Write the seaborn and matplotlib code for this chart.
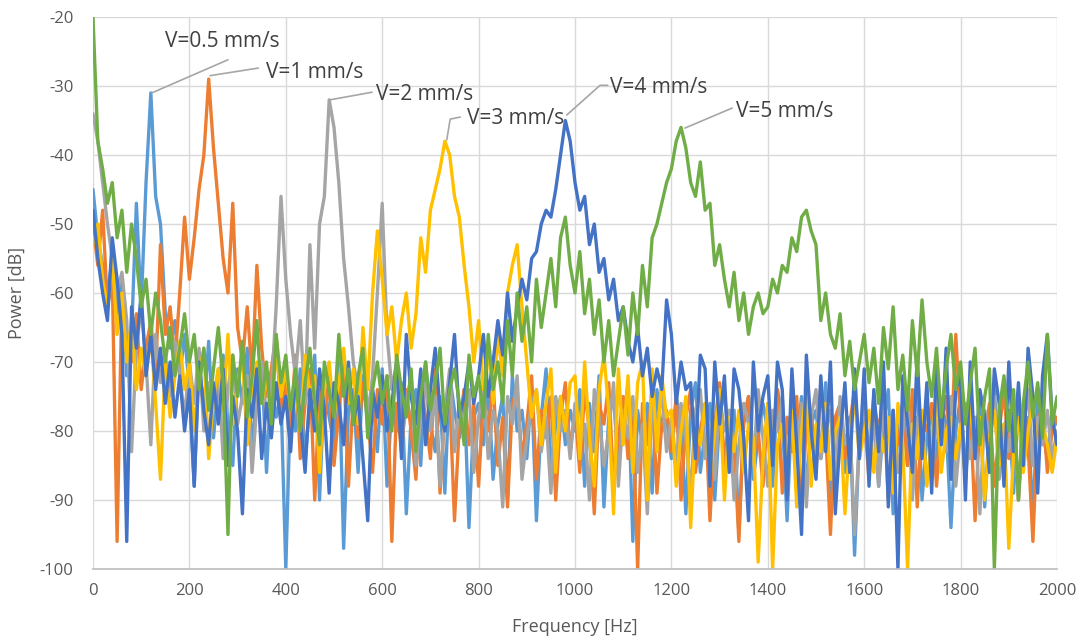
import numpy as np
import pandas as pd
import matplotlib
matplotlib.use("Agg")
import matplotlib.pyplot as plt
import seaborn as sns

# Frequency bins (Hz)
freq = list(range(0, 2001, 10))

v05 = [-45, -52, -56, -60, -55, -63, -58, -72, -66, -47, -62, -44, -31, -46, -50, -63, -68, -64, -72, -66,
       -74, -88, -70, -77, -67, -81, -73, -69, -79, -85, -71, -76, -68, -83, -74, -70, -86, -72, -78, -75,
       -100, -75, -80, -71, -84, -76, -69, -90, -73, -78, -82, -70, -97, -77, -74, -86, -72, -79, -75, -83,
       -71, -88, -76, -80, -73, -92, -78, -74, -85, -70, -79, -83, -75, -89, -72, -77, -81, -74, -94, -78,
       -76, -82, -73, -87, -79, -75, -90, -72, -80, -77, -84, -74, -93, -78, -71, -86, -79, -75, -82, -77,
       -80, -74, -88, -76, -83, -72, -91, -78, -75, -85, -79, -73, -96, -77, -82, -76, -89, -74, -80, -78,
       -84, -75, -79, -92, -77, -73, -86, -80, -76, -90, -78, -74, -83, -77, -95, -79, -75, -87, -81, -76,
       -80, -88, -74, -78, -93, -76, -82, -75, -89, -79, -77, -84, -73, -91, -80, -76, -86, -78, -98, -81,
       -77, -83, -75, -88, -79, -74, -92, -80, -76, -85, -78, -73, -90, -81, -77, -84, -76, -79, -94, -80,
       -75, -87, -78, -82, -76, -91, -79, -74, -85, -80, -77, -89, -76, -81, -78, -93, -75, -80, -84, -77,
       -79]

v1 = [-50, -56, -48, -62, -58, -96, -60, -66, -70, -63, -74, -68, -64, -72, -53, -66, -62, -70, -60, -49,
      -58, -52, -45, -40, -29, -39, -47, -55, -60, -47, -65, -70, -62, -72, -56, -68, -75, -71, -66, -78,
      -73, -80, -69, -84, -76, -71, -90, -74, -79, -72, -85, -77, -70, -88, -75, -81, -73, -78, -86, -74,
      -79, -72, -96, -76, -83, -74, -80, -87, -73, -78, -84, -71, -89, -77, -75, -93, -79, -74, -82, -76,
      -88, -75, -80, -73, -85, -78, -91, -76, -74, -84, -79, -72, -87, -77, -81, -75, -90, -78, -73, -83,
      -77, -86, -74, -80, -92, -76, -79, -73, -88, -81, -75, -84, -78, -100, -76, -82, -74, -89, -79, -77,
      -83, -75, -90, -78, -74, -86, -80, -76, -93, -79, -73, -85, -77, -82, -96, -78, -75, -84, -80, -88,
      -76, -81, -74, -89, -78, -83, -75, -92, -79, -77, -86, -73, -80, -95, -78, -76, -84, -79, -74, -82,
      -78, -87, -76, -80, -75, -90, -79, -82, -77, -85, -74, -91, -78, -80, -76, -88, -79, -75, -83, -66,
      -79, -85, -77, -93, -78, -81, -76, -88, -80, -74, -84, -78, -90, -77, -82, -96, -79, -76, -86, -80,
      -78]

v2 = [-34, -38, -44, -50, -55, -60, -57, -64, -83, -68, -62, -70, -82, -66, -73, -69, -75, -67, -72, -78,
      -70, -76, -68, -80, -73, -77, -71, -84, -74, -69, -79, -75, -72, -86, -76, -70, -78, -74, -62, -46,
      -58, -66, -72, -64, -76, -53, -68, -50, -46, -32, -36, -44, -55, -62, -70, -74, -67, -78, -72, -60,
      -47, -66, -74, -70, -82, -76, -72, -85, -78, -73, -80, -75, -88, -77, -71, -83, -76, -79, -74, -86,
      -78, -73, -84, -77, -80, -91, -75, -79, -72, -87, -81, -76, -74, -83, -78, -89, -75, -80, -77, -84,
      -76, -82, -79, -90, -74, -78, -85, -80, -73, -88, -77, -81, -75, -86, -79, -92, -76, -80, -74, -83,
      -78, -85, -76, -81, -89, -77, -74, -84, -79, -87, -75, -80, -77, -90, -82, -76, -79, -85, -74, -81,
      -88, -77, -80, -75, -86, -79, -83, -76, -91, -78, -74, -84, -80, -77, -89, -75, -82, -79, -95, -81,
      -76, -84, -79, -88, -75, -81, -77, -86, -80, -74, -90, -78, -82, -76, -85, -79, -77, -83, -75, -88,
      -80, -76, -84, -78, -92, -77, -81, -75, -87, -79, -83, -76, -90, -80, -74, -85, -78, -82, -77, -84,
      -80]

v3 = [-53, -50, -58, -62, -55, -66, -60, -70, -64, -74, -68, -72, -66, -76, -87, -70, -78, -72, -67, -74,
      -70, -80, -72, -68, -84, -75, -71, -77, -66, -79, -73, -69, -82, -74, -70, -76, -72, -78, -68, -75,
      -71, -77, -73, -80, -69, -75, -72, -86, -74, -70, -78, -73, -68, -76, -71, -79, -65, -74, -60, -51,
      -58, -66, -62, -70, -64, -60, -68, -63, -52, -57, -48, -45, -42, -38, -40, -46, -49, -56, -62, -70,
      -64, -74, -68, -76, -66, -72, -60, -56, -53, -62, -70, -78, -74, -82, -76, -71, -86, -75, -80, -73,
      -72, -84, -70, -81, -88, -74, -69, -77, -92, -71, -82, -72, -86, -73, -70, -90, -71, -83, -72, -78,
      -77, -88, -80, -75, -94, -79, -82, -76, -87, -80, -74, -90, -78, -83, -77, -86, -79, -81, -99, -84,
      -76, -100, -82, -79, -85, -77, -91, -80, -74, -88, -79, -83, -76, -87, -80, -78, -92, -81, -75, -84,
      -80, -77, -86, -79, -83, -78, -89, -76, -82, -100, -79, -84, -77, -88, -81, -75, -86, -80, -78, -84,
      -79, -87, -76, -82, -78, -90, -81, -77, -85, -79, -97, -83, -78, -86, -80, -76, -84, -79, -82, -86,
      -81]

v4 = [-48, -55, -60, -64, -52, -58, -66, -96, -62, -68, -60, -72, -66, -74, -68, -76, -70, -78, -72, -80,
      -74, -88, -70, -77, -82, -73, -79, -71, -85, -75, -80, -92, -74, -78, -71, -84, -76, -81, -73, -79,
      -75, -83, -72, -78, -86, -74, -80, -71, -77, -89, -73, -76, -82, -70, -79, -75, -84, -93, -74, -78,
      -72, -80, -76, -70, -84, -66, -75, -79, -71, -82, -74, -68, -77, -80, -73, -66, -78, -75, -70, -76,
      -72, -66, -75, -70, -64, -69, -60, -67, -62, -58, -61, -55, -54, -50, -48, -49, -45, -40, -35, -38,
      -44, -48, -46, -53, -50, -57, -55, -61, -58, -64, -62, -67, -70, -65, -72, -68, -75, -71, -74, -61,
      -66, -76, -70, -74, -73, -84, -69, -71, -88, -70, -79, -72, -86, -71, -74, -81, -93, -70, -80, -75,
      -72, -85, -70, -74, -90, -71, -82, -95, -69, -80, -87, -72, -83, -70, -92, -81, -73, -86, -71, -84,
      -71, -88, -74, -83, -70, -91, -77, -100, -72, -79, -86, -69, -84, -73, -89, -70, -82, -68, -87, -74,
      -72, -90, -70, -84, -74, -78, -86, -71, -76, -88, -70, -83, -73, -85, -68, -75, -89, -72, -66, -78,
      -82]

v5 = [-20, -38, -42, -47, -44, -52, -48, -57, -50, -55, -62, -58, -66, -60, -64, -70, -65, -72, -68, -63,
      -70, -66, -74, -68, -77, -71, -65, -73, -95, -69, -75, -67, -78, -72, -64, -76, -70, -79, -66, -73,
      -69, -77, -71, -80, -73, -68, -76, -82, -70, -74, -78, -66, -75, -71, -79, -72, -68, -81, -74, -70,
      -76, -72, -80, -69, -74, -78, -71, -83, -75, -70, -77, -73, -68, -79, -74, -71, -76, -82, -69, -75,
      -72, -78, -66, -74, -70, -76, -64, -72, -60, -67, -62, -70, -58, -65, -60, -55, -62, -52, -49, -56,
      -60, -54, -63, -58, -66, -61, -70, -64, -72, -67, -62, -69, -60, -66, -56, -62, -52, -50, -47, -44,
      -42, -38, -36, -39, -44, -46, -41, -48, -47, -56, -53, -58, -62, -57, -64, -60, -66, -62, -60, -63,
      -62, -58, -60, -56, -57, -52, -54, -49, -48, -51, -53, -64, -60, -66, -68, -63, -72, -67, -74, -70,
      -66, -73, -68, -76, -65, -71, -62, -74, -69, -77, -64, -72, -61, -70, -75, -68, -78, -71, -66, -74,
      -70, -79, -73, -68, -82, -75, -71, -100, -77, -72, -80, -74, -90, -76, -70, -78, -73, -81, -66, -79,
      -75]

labels = ["V=0.5 mm/s", "V=1 mm/s", "V=2 mm/s", "V=3 mm/s", "V=4 mm/s", "V=5 mm/s"]
colors = ["#5B9BD5", "#ED7D31", "#A5A5A5", "#FFC000", "#4472C4", "#70AD47"]
series = [v05, v1, v2, v3, v4, v5]

rows = []
for lab, vals in zip(labels, series):
    for f, v in zip(freq, vals):
        rows.append((f, v, lab))
df = pd.DataFrame(rows, columns=["Frequency", "Power", "Speed"])

sns.set_theme(style="white")
plt.rcParams['font.family'] = ['Open Sans', 'DejaVu Sans']
plt.rcParams['axes.unicode_minus'] = False

fig = plt.figure(figsize=(10.86, 6.41), dpi=100)
ax = fig.add_axes([93/1086, 1-569/641, (1057-93)/1086, (569-17)/641])

sns.lineplot(data=df, x="Frequency", y="Power", hue="Speed", hue_order=labels,
             palette=colors, linewidth=2.4, legend=False, ax=ax, estimator=None, sort=False)

ax.set_xlim(0, 2000)
ax.set_ylim(-100, -20)
ax.set_xticks(range(0, 2001, 200))
ax.set_yticks(range(-100, -19, 10))
ax.grid(True, color="#D9D9D9", linewidth=1.0)
ax.set_axisbelow(True)
for s in ["top", "right", "left"]:
    ax.spines[s].set_visible(False)
ax.spines["bottom"].set_color("#BFBFBF")
ax.tick_params(axis="both", colors="#595959", labelsize=12, length=0)
ax.tick_params(axis="x", pad=10)
ax.tick_params(axis="y", pad=14)
ax.set_xlabel("Frequency [Hz]", color="#595959", fontsize=13)
ax.set_ylabel("Power [dB]", color="#595959", fontsize=13)
ax.xaxis.labelpad = 14
ax.yaxis.labelpad = 10

ann_color = "#404040"
lead = "#A6A6A6"
annots = [
    ("V=0.5 mm/s", [(122, -31), (280, -26.2)], (149, -23.6)),
    ("V=1 mm/s", [(243, -28.5), (343, -27.4)], (358, -28.0)),
    ("V=2 mm/s", [(492, -32), (579, -30.9)], (588, -31.3)),
    ("V=3 mm/s", [(734, -37.8), (741, -34.8), (762, -34.5)], (776, -34.7)),
    ("V=4 mm/s", [(983, -34.2), (1052, -29.9), (1068, -29.9)], (1073, -30.2)),
    ("V=5 mm/s", [(1228, -36.1), (1326, -33.2)], (1334, -33.7)),
]
for txt, pts, tpos in annots:
    xs = [p[0] for p in pts]
    ys = [p[1] for p in pts]
    ax.plot(xs, ys, color=lead, linewidth=1.2, zorder=5)
    ax.text(tpos[0], tpos[1], txt, color=ann_color, fontsize=15, va="center", ha="left", zorder=6)

fig.savefig("out.png", dpi=100)
